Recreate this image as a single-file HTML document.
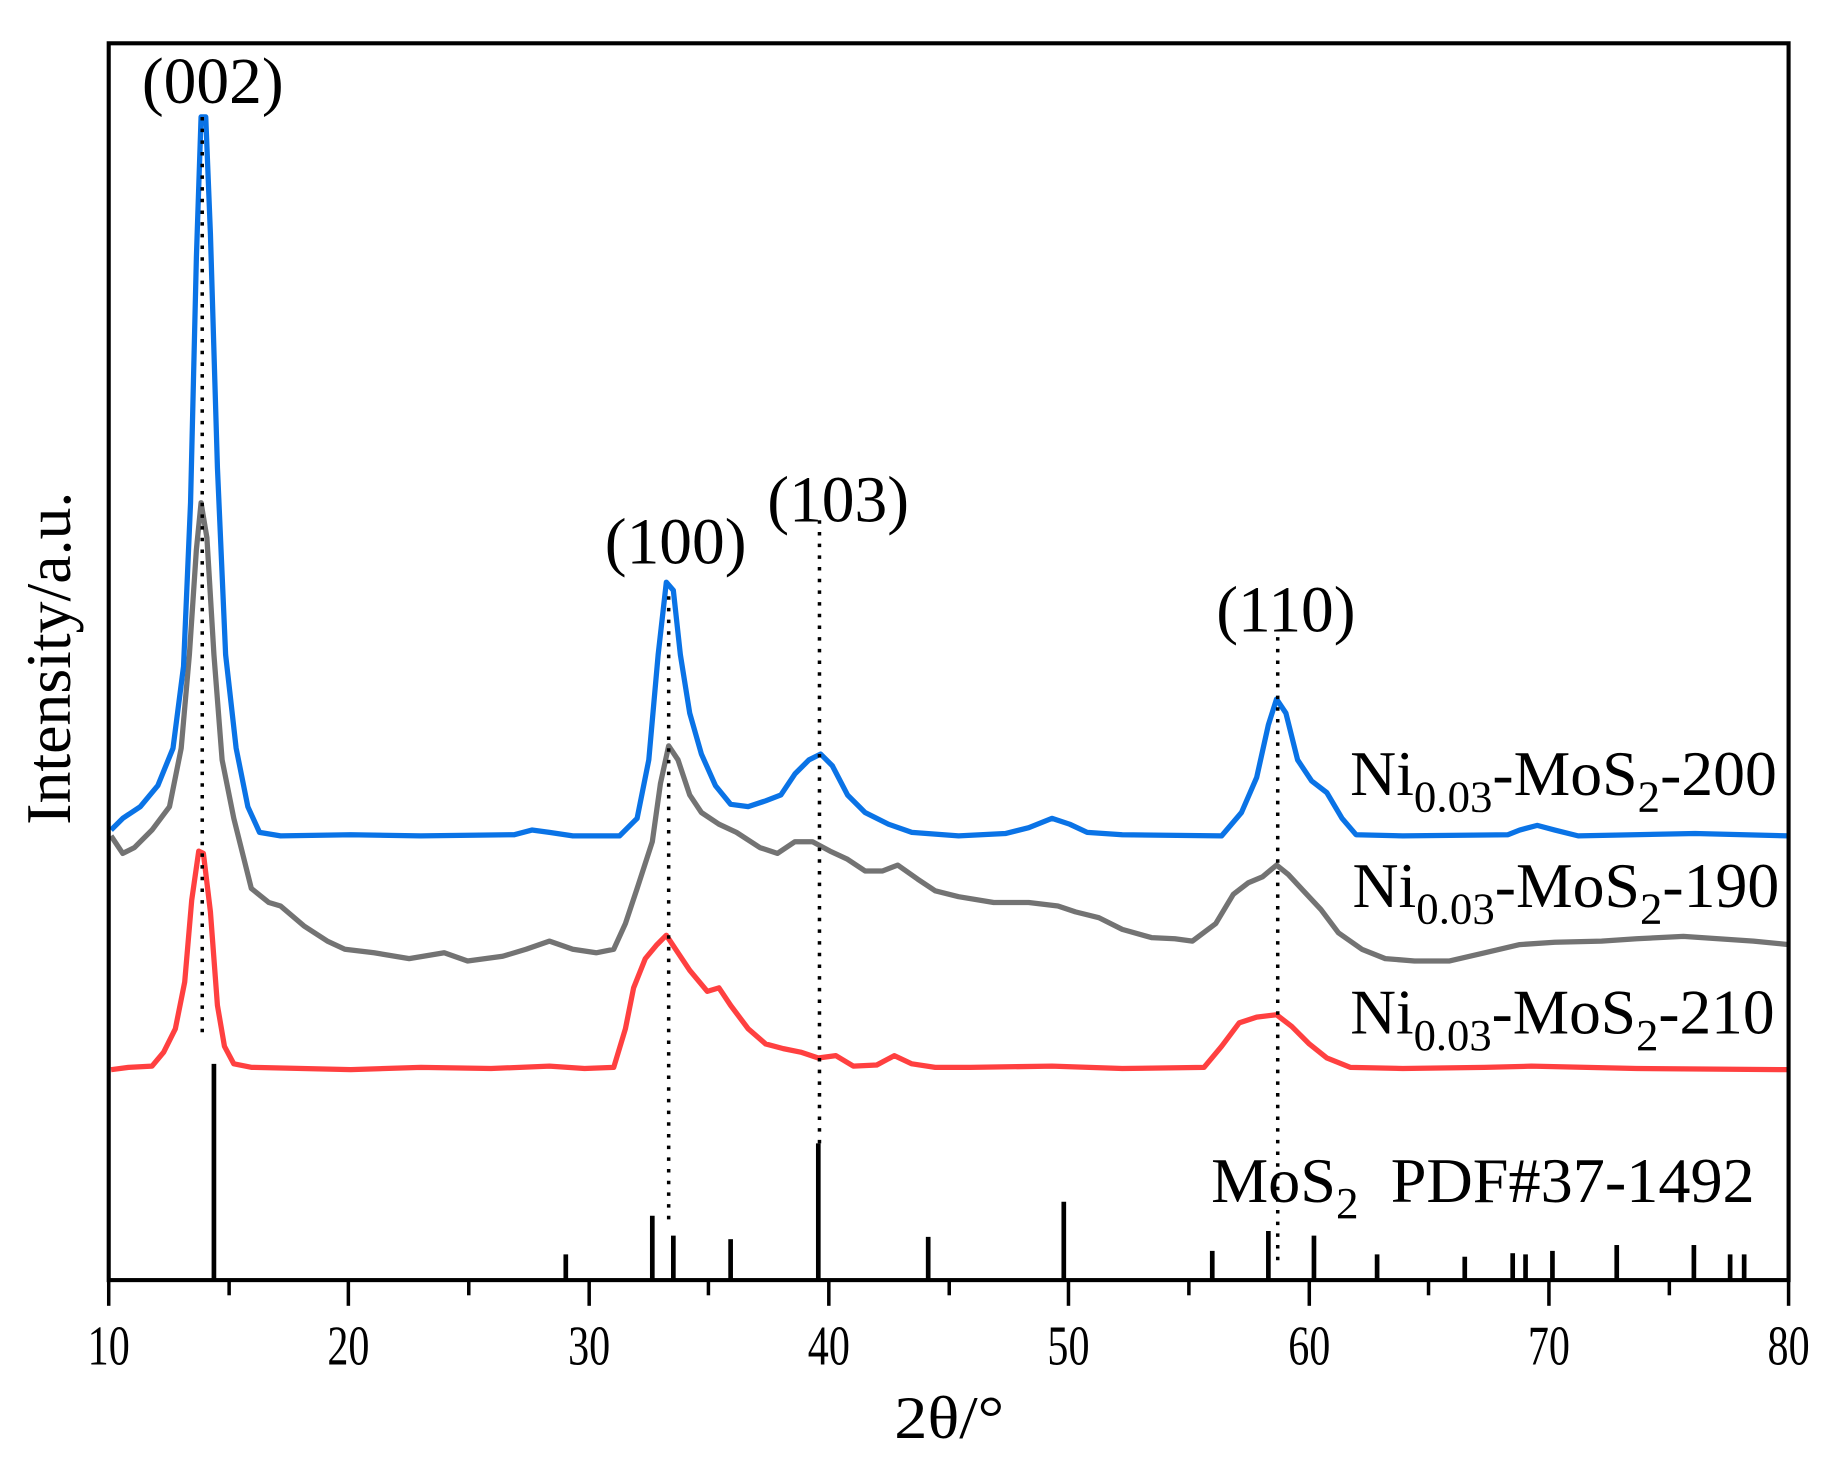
<!DOCTYPE html>
<html><head><meta charset="utf-8"><style>html,body{margin:0;padding:0;background:#fff}svg{display:block}</style></head>
<body>
<svg width="1833" height="1459" viewBox="0 0 1568 1248" xmlns="http://www.w3.org/2000/svg" font-family="'Liberation Serif', serif">
<rect width="1568" height="1248" fill="#fff"/>
<g fill="none" stroke-linejoin="round" stroke-width="4.5">
<path stroke="#737373" d="M95,715 L105,730 L115,725 L130,710 L145,690 L155,640 L162,560 L168,470 L172,430 L177,460 L183,560 L190,650 L200,700 L215,760 L230,772 L240,775 L260,792 L280,805 L295,812 L320,815 L350,820 L380,815 L400,822 L430,818 L450,812 L470,805 L490,812 L510,815 L525,812 L535,790 L545,760 L558,720 L565,670 L572,638 L580,650 L590,680 L600,695 L615,705 L630,712 L650,725 L665,730 L680,720 L695,720 L710,728 L725,735 L740,745 L755,745 L768,740 L785,752 L800,762 L820,767 L850,772 L880,772 L905,775 L920,780 L940,785 L960,795 L985,802 L1005,803 L1020,805 L1040,790 L1055,765 L1068,755 L1080,750 L1092,740 L1102,748 L1115,762 L1130,778 L1145,798 L1165,812 L1185,820 L1210,822 L1240,822 L1270,815 L1300,808 L1330,806 L1370,805 L1400,803 L1440,801 L1470,803 L1500,805 L1530,808"/>
<path stroke="#ff4040" d="M95,915 L110,913 L130,912 L140,900 L150,880 L158,840 L164,770 L170,728 L174,730 L180,780 L186,860 L192,895 L200,910 L215,913 L300,915 L360,913 L420,914 L470,912 L500,914 L525,913 L535,880 L542,845 L552,820 L562,808 L570,800 L578,812 L590,830 L605,848 L615,845 L625,860 L640,880 L655,893 L670,897 L685,900 L700,905 L715,903 L730,912 L750,911 L765,903 L780,910 L800,913 L830,913 L900,912 L960,914 L1030,913 L1045,895 L1060,875 L1075,870 L1092,868 L1105,878 L1120,893 L1135,905 L1155,913 L1200,914 L1270,913 L1310,912 L1400,914 L1530,915"/>
<path stroke="#0a73e6" d="M95,710 L105,700 L120,690 L135,672 L148,640 L157,570 L163,430 L168,220 L172,100 L176,100 L180,200 L186,400 L193,560 L202,640 L212,690 L222,712 L240,715 L300,714 L360,715 L440,714 L455,710 L470,712 L490,715 L530,715 L545,700 L555,650 L563,560 L570,498 L576,505 L582,560 L590,610 L600,645 L612,672 L625,688 L640,690 L655,685 L668,680 L680,662 L692,650 L702,645 L712,655 L725,680 L740,695 L760,705 L780,712 L820,715 L860,713 L880,708 L900,700 L915,705 L930,712 L960,714 L1045,715 L1062,695 L1075,665 L1085,620 L1092,598 L1100,610 L1110,650 L1122,668 L1135,678 L1148,700 L1160,714 L1200,715 L1290,714 L1300,710 L1315,706 L1330,710 L1350,715 L1450,713 L1530,715"/>
</g>
<g stroke="#000" stroke-width="3" stroke-dasharray="3,7">
<line x1="173" y1="100" x2="173" y2="890"/>
<line x1="572" y1="510" x2="572" y2="1045"/>
<line x1="701" y1="445" x2="701" y2="980"/>
<line x1="1093" y1="545" x2="1093" y2="1085"/>
</g>
<g stroke="#000" stroke-width="4">
<line x1="183" y1="1095" x2="183" y2="910"/>
<line x1="484" y1="1095" x2="484" y2="1073"/>
<line x1="558" y1="1095" x2="558" y2="1040"/>
<line x1="576" y1="1095" x2="576" y2="1057"/>
<line x1="625" y1="1095" x2="625" y2="1060"/>
<line x1="700" y1="1095" x2="700" y2="978"/>
<line x1="794" y1="1095" x2="794" y2="1058"/>
<line x1="910" y1="1095" x2="910" y2="1028"/>
<line x1="1037" y1="1095" x2="1037" y2="1070"/>
<line x1="1085" y1="1095" x2="1085" y2="1053"/>
<line x1="1124" y1="1095" x2="1124" y2="1057"/>
<line x1="1178" y1="1095" x2="1178" y2="1073"/>
<line x1="1253" y1="1095" x2="1253" y2="1075"/>
<line x1="1294" y1="1095" x2="1294" y2="1072"/>
<line x1="1305" y1="1095" x2="1305" y2="1073"/>
<line x1="1328" y1="1095" x2="1328" y2="1070"/>
<line x1="1383" y1="1095" x2="1383" y2="1065"/>
<line x1="1449" y1="1095" x2="1449" y2="1065"/>
<line x1="1480" y1="1095" x2="1480" y2="1073"/>
<line x1="1492" y1="1095" x2="1492" y2="1073"/>
</g>
<rect x="93" y="37" width="1437" height="1058" fill="none" stroke="#000" stroke-width="3.5"/>
<g stroke="#000" stroke-width="3">
<line x1="93" y1="1095" x2="93" y2="1117"/><line x1="298" y1="1095" x2="298" y2="1117"/><line x1="504" y1="1095" x2="504" y2="1117"/><line x1="709" y1="1095" x2="709" y2="1117"/><line x1="914" y1="1095" x2="914" y2="1117"/><line x1="1120" y1="1095" x2="1120" y2="1117"/><line x1="1325" y1="1095" x2="1325" y2="1117"/><line x1="1530" y1="1095" x2="1530" y2="1117"/>
<line x1="196" y1="1095" x2="196" y2="1108"/><line x1="401" y1="1095" x2="401" y2="1108"/><line x1="606" y1="1095" x2="606" y2="1108"/><line x1="812" y1="1095" x2="812" y2="1108"/><line x1="1017" y1="1095" x2="1017" y2="1108"/><line x1="1222" y1="1095" x2="1222" y2="1108"/><line x1="1428" y1="1095" x2="1428" y2="1108"/>
</g>
<g font-size="48" text-anchor="middle" fill="#000">
<text x="93" y="1167" textLength="36" lengthAdjust="spacingAndGlyphs">10</text><text x="298" y="1167" textLength="36" lengthAdjust="spacingAndGlyphs">20</text><text x="504" y="1167" textLength="36" lengthAdjust="spacingAndGlyphs">30</text><text x="709" y="1167" textLength="36" lengthAdjust="spacingAndGlyphs">40</text><text x="914" y="1167" textLength="36" lengthAdjust="spacingAndGlyphs">50</text><text x="1120" y="1167" textLength="36" lengthAdjust="spacingAndGlyphs">60</text><text x="1325" y="1167" textLength="36" lengthAdjust="spacingAndGlyphs">70</text><text x="1530" y="1167" textLength="36" lengthAdjust="spacingAndGlyphs">80</text>
</g>
<text x="812" y="1230" font-size="52" text-anchor="middle" textLength="94" lengthAdjust="spacingAndGlyphs">2θ/°</text>
<text transform="translate(60,563) rotate(-90)" font-size="54" text-anchor="middle" textLength="285" lengthAdjust="spacingAndGlyphs">Intensity/a.u.</text>
<g font-size="56" text-anchor="middle">
<text x="182" y="88">(002)</text>
<text x="578" y="482">(100)</text>
<text x="717" y="446">(103)</text>
<text x="1100" y="540">(110)</text>
</g>
<g font-size="54">
<text x="1155" y="680" textLength="365" lengthAdjust="spacingAndGlyphs">Ni<tspan font-size="38" dy="14">0.03</tspan><tspan dy="-14">-MoS</tspan><tspan font-size="38" dy="14">2</tspan><tspan dy="-14">-200</tspan></text>
<text x="1157" y="776" textLength="365" lengthAdjust="spacingAndGlyphs">Ni<tspan font-size="38" dy="14">0.03</tspan><tspan dy="-14">-MoS</tspan><tspan font-size="38" dy="14">2</tspan><tspan dy="-14">-190</tspan></text>
<text x="1155" y="884" textLength="363" lengthAdjust="spacingAndGlyphs">Ni<tspan font-size="38" dy="14">0.03</tspan><tspan dy="-14">-MoS</tspan><tspan font-size="38" dy="14">2</tspan><tspan dy="-14">-210</tspan></text>
<text x="1036" y="1028" textLength="465" lengthAdjust="spacingAndGlyphs">MoS<tspan font-size="38" dy="14">2</tspan><tspan dy="-14" xml:space="preserve">  PDF#37-1492</tspan></text>
</g>
</svg>
</body></html>
